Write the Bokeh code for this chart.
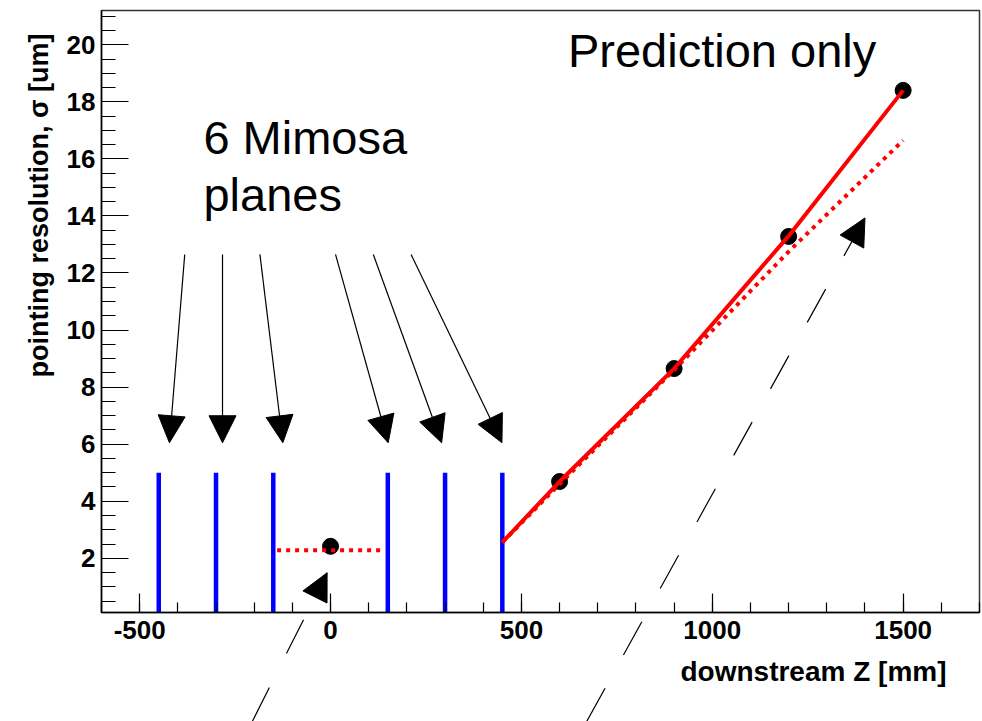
from bokeh.plotting import figure
from bokeh.models import (Range1d, SingleIntervalTicker, Arrow, NormalHead, Label,
                          Title, ColumnDataSource)
from bokeh.embed import file_html
from bokeh.resources import INLINE

# ---------------- data ----------------
plane_z = [-450, -300, -150, 150, 300, 450]
plane_y0 = [0, 0, 0, 0, 0, 0]
plane_y1 = [5, 5, 5, 5, 5, 5]

meas_z = [0, 600, 900, 1200, 1500]
meas_sigma = [2.42, 4.69, 8.65, 13.28, 18.4]

fit_z = [450, 600, 900, 1200, 1500]
fit_sigma = [2.56, 4.69, 8.65, 13.3, 18.4]

pred_z = [450, 600, 900, 1200, 1500]
pred_sigma = [2.56, 4.6, 8.6, 12.75, 16.65]

dut_pred_z = [-140, 137]
dut_pred_sigma = [2.28, 2.28]

# arrows pointing to the planes (from label to plane)
plane_arrow_x0 = [-382, -283, -185, 13, 112, 211]
plane_arrow_y0 = [12.65] * 6
plane_arrow_x1 = [-422, -283, -125, 151, 291, 449]
plane_arrow_y1 = [6.05] * 6

# dashed beam arrows
beam_arrow_x0 = [-205, 671]
beam_arrow_y0 = [-3.72, -3.72]
beam_arrow_x1 = [-9, 1400]
beam_arrow_y1 = [1.49, 13.93]

x_ticks_interval = 500
y_ticks_interval = 2
x_label_overrides = {-500: "-500"}

FONT = "Liberation Sans"

p = figure(width=982, height=721, output_backend="svg", toolbar_location=None,
           title=None,
           x_range=Range1d(-600, 1700), y_range=Range1d(0.1, 21.2),
           min_border_left=101, min_border_right=3, min_border_top=10,
           min_border_bottom=109)
p.background_fill_color = "white"
p.border_fill_color = "white"
p.outline_line_color = "#333333"
p.outline_line_width = 1.5
p.xgrid.visible = False
p.ygrid.visible = False

p.xaxis.ticker = SingleIntervalTicker(interval=x_ticks_interval, num_minor_ticks=5)
p.yaxis.ticker = SingleIntervalTicker(interval=y_ticks_interval, num_minor_ticks=4)
p.xaxis.major_label_overrides = x_label_overrides
for ax in (p.xaxis, p.yaxis):
    ax.major_tick_out = 0
    ax.minor_tick_out = 0
    ax.axis_line_color = "black"
    ax.axis_line_width = 1.5
    ax.major_tick_line_color = "black"
    ax.minor_tick_line_color = "black"
    ax.major_tick_line_width = 1.2
    ax.minor_tick_line_width = 1.2
    ax.major_label_text_font = FONT
    ax.major_label_text_font_style = "bold"
    ax.major_label_text_font_size = "26px"
    ax.major_label_text_color = "black"
p.xaxis.major_label_standoff = 8
p.yaxis.major_label_standoff = 6
p.xaxis.major_tick_in = 19
p.xaxis.minor_tick_in = 10
p.yaxis.major_tick_in = 27
p.yaxis.minor_tick_in = 14

title_props = Title.properties()
extra_y = {"standoff": 20} if "standoff" in title_props else {}
extra_x = {"standoff": 25} if "standoff" in title_props else {}

ytitle = Title(text="pointing resolution, \u03c3 [um]", align="right", offset=23,
               text_font=FONT, text_font_style="bold", text_font_size="27px",
               text_color="black", **extra_y)
p.add_layout(ytitle, "left")
xtitle = Title(text="downstream Z [mm]", align="right", offset=33,
               text_font=FONT, text_font_style="bold", text_font_size="28px",
               text_color="black", **extra_x)
p.add_layout(xtitle, "below")

# planes
p.segment(x0=plane_z, y0=plane_y0, x1=plane_z, y1=plane_y1,
          line_color="#0000ff", line_width=4.5)

# measured points
p.scatter(meas_z, meas_sigma, size=16, color="black")

# fit and prediction lines
p.line(fit_z, fit_sigma, line_color="red", line_width=4)
p.line(pred_z, pred_sigma, line_color="red", line_width=4, line_dash="4 5")
p.line(dut_pred_z, dut_pred_sigma, line_color="red", line_width=4, line_dash="4 5")

# arrows to planes
src_pa = ColumnDataSource(dict(x0=plane_arrow_x0, y0=plane_arrow_y0,
                               x1=plane_arrow_x1, y1=plane_arrow_y1))
p.add_layout(Arrow(x_start="x0", y_start="y0", x_end="x1", y_end="y1", source=src_pa,
                   line_color="black", line_width=1.2,
                   end=NormalHead(size=27, fill_color="black", line_color="black")))

# dashed beam arrows: bodies as overlay lines (may extend below the frame), heads as arrows
beam_xs = [[a, b] for a, b in zip(beam_arrow_x0, beam_arrow_x1)]
beam_ys = [[a, b] for a, b in zip(beam_arrow_y0, beam_arrow_y1)]
p.multi_line(beam_xs, beam_ys, line_color="black", line_width=1.2, line_dash="38 38",
             level="overlay")
src_ba = ColumnDataSource(dict(x0=beam_arrow_x0, y0=beam_arrow_y0,
                               x1=beam_arrow_x1, y1=beam_arrow_y1))
p.add_layout(Arrow(x_start="x0", y_start="y0", x_end="x1", y_end="y1", source=src_ba,
                   line_alpha=0,
                   end=NormalHead(size=27, fill_color="black", line_color="black")))

# labels
for txt, x, y in [("6 Mimosa", -333, 16.75), ("planes", -333, 14.75),
                  ("Prediction only", 622, 19.8)]:
    p.add_layout(Label(x=x, y=y, text=txt, text_font=FONT, text_font_size="47px",
                       text_color="black", text_baseline="alphabetic", text_align="left"))

open("out.html", "w").write(file_html(p, INLINE))
